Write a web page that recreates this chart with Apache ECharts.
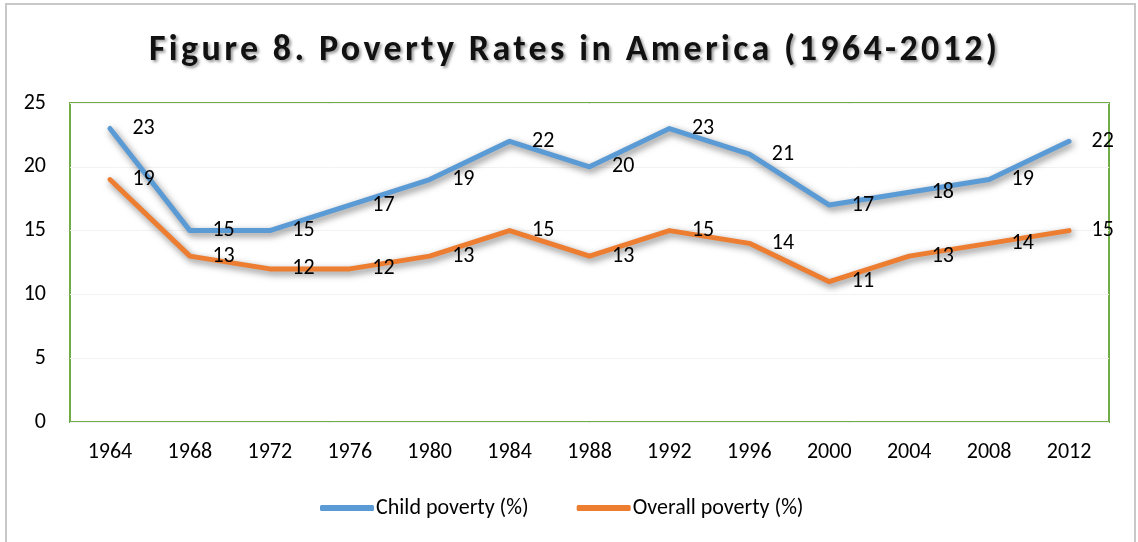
<!DOCTYPE html>
<html>
<head>
<meta charset="utf-8">
<script src="https://cdn.jsdelivr.net/npm/echarts@6/dist/echarts.min.js"></script>
<style>
html,body{margin:0;padding:0;background:#fff;}
#frame{position:absolute;left:5px;top:3px;width:1131px;height:560px;border:2px solid #c8c8c8;box-sizing:border-box;}
#chart{position:absolute;left:0;top:0;width:1138px;height:542px;}
</style>
</head>
<body>
<div id="frame"></div>
<div id="chart"></div>
<script>
var years = ['1964','1968','1972','1976','1980','1984','1988','1992','1996','2000','2004','2008','2012'];
var childPoverty = [23,15,15,17,19,22,20,23,21,17,18,19,22];
var overallPoverty = [19,13,12,12,13,15,13,15,14,11,13,14,15];
var yTicks = [0,5,10,15,20,25];
var TITLE = 'Figure 8. Poverty Rates in America (1964-2012)';

var FONT = "Carlito, 'Open Sans', 'Noto Sans', sans-serif";
var chart = echarts.init(document.getElementById('chart'), null, {renderer:'canvas'});
try {
  var layer = chart.getZr().painter.getLayer(5);
  if (layer && layer.ctx) { layer.ctx.letterSpacing = '3.35px'; }
} catch (e) {}
function mkSeries(name, data, color){
  return {
    name: name, type: 'line', data: data, symbol: 'circle', symbolSize: 1, showSymbol: true,
    lineStyle: {color: color, width: 5, cap: 'round', join: 'round',
      shadowColor: 'rgba(0,0,0,0.5)', shadowBlur: 7, shadowOffsetX: 2, shadowOffsetY: 3},
    itemStyle: {color: color},
    label: {show: true, position: 'right', distance: 22, color: '#000', fontSize: 22, fontFamily: FONT},
    emphasis: {disabled: true}
  };
}
chart.setOption({
  animation: false,
  title: {
    text: TITLE, zlevel: 5,
    left: 144, top: 28,
    textStyle: {fontFamily: FONT, fontWeight: 'bold', fontSize: 36, color: '#111',
      textShadowColor: 'rgba(0,0,0,0.4)', textShadowBlur: 3, textShadowOffsetX: 2, textShadowOffsetY: 2}
  },
  legend: {
    bottom: 18, left: 315, itemWidth: 54, itemHeight: 6, itemGap: 48,
    icon: 'roundRect',
    textStyle: {fontFamily: FONT, fontSize: 22, color: '#000', padding: [0,0,0,-3]},
    data: ['Child poverty (%)', 'Overall poverty (%)']
  },
  grid: {left: 70, right: 29, top: 103, bottom: 120, show: true, borderColor: '#70ad47', borderWidth: 2, backgroundColor: 'transparent'},
  xAxis: {
    type: 'category', data: years, boundaryGap: true,
    axisLine: {show: false}, axisTick: {show: false},
    axisLabel: {fontFamily: FONT, fontSize: 22, color: '#000', margin: 19}
  },
  yAxis: {
    type: 'value', min: yTicks[0], max: yTicks[yTicks.length-1], interval: 5,
    axisLine: {show: false}, axisTick: {show: false},
    axisLabel: {fontFamily: FONT, fontSize: 22, color: '#000', margin: 24},
    splitLine: {show: true, lineStyle: {color: '#f2f2f2', width: 1}}
  },
  series: [
    mkSeries('Child poverty (%)', childPoverty, '#5b9bd5'),
    mkSeries('Overall poverty (%)', overallPoverty, '#ed7d31')
  ]
});
</script>
</body>
</html>
